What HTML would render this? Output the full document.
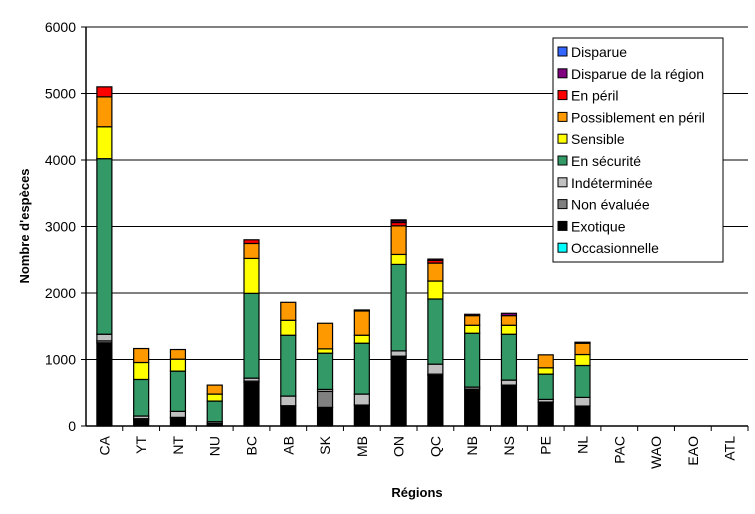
<!DOCTYPE html>
<html><head><meta charset="utf-8"><style>
body{margin:0;background:#fff;}
svg text{font-family:"Liberation Sans",Arial,sans-serif;}
</style></head><body>
<svg id="c" width="755" height="509" xmlns="http://www.w3.org/2000/svg"></svg>
<script>
const categories=["CA","YT","NT","NU","BC","AB","SK","MB","ON","QC","NB","NS","PE","NL","PAC","WAO","EAO","ATL"];
const seriesNames=["Exotique","Non évaluée","Indéterminée","En sécurité","Sensible","Possiblement en péril","En péril","Disparue de la région","Disparue","Occasionnelle"];
const exotique=[1250,90,120,20,655,305,280,315,1050,760,555,615,360,300,0,0,0,0];
const nonEvaluee=[30,20,10,20,20,0,240,0,0,20,0,0,0,0,0,0,0,0];
const indeterminee=[100,40,90,25,45,145,30,165,80,150,30,75,40,130,0,0,0,0];
const enSecurite=[2640,550,605,310,1275,915,545,765,1300,980,810,690,380,480,0,0,0,0];
const sensible=[480,255,180,105,525,225,65,120,150,270,120,135,95,165,0,0,0,0];
const possiblement=[450,210,145,135,225,270,385,365,430,270,145,145,195,170,0,0,0,0];
const enPeril=[150,0,0,0,55,0,0,0,50,40,0,0,0,0,0,0,0,0];
const disparueRegion=[0,0,0,0,0,0,0,15,25,20,20,35,0,15,0,0,0,0];
const disparue=[0,0,0,0,0,0,0,0,15,0,0,0,0,0,0,0,0,0];
const occasionnelle=[0,0,0,0,0,0,0,0,0,0,0,0,0,0,0,0,0,0];
const yTicks=[0,1000,2000,3000,4000,5000,6000];
const series=[exotique,nonEvaluee,indeterminee,enSecurite,sensible,possiblement,enPeril,disparueRegion,disparue,occasionnelle];
const colors=["#000000","#808080","#c0c0c0","#339966","#ffff00","#ff9900","#ff0000","#800080","#3366ff","#00ffff"];
const legendOrder=[8,7,6,5,4,3,2,1,0,9];
const NS="http://www.w3.org/2000/svg";
const svg=document.getElementById('c');
const X0=86,X1=748,Y0=426,Y1=27,YMAX=6000;
const bw=(X1-X0)/categories.length;
function y(v){return Y0-(v/YMAX)*(Y0-Y1);}
function xc(i){return X0+bw*(i+0.5);}
function el(t,a,p){const e=document.createElementNS(NS,t);for(const k in a)e.setAttribute(k,a[k]);(p||svg).appendChild(e);return e;}
yTicks.forEach(v=>{
 if(v>0){const g=el('line',{x1:X0,x2:X1,y1:y(v),y2:y(v),stroke:'#000','stroke-width':1});
 
 }
 el('line',{x1:X0-5,x2:X0,y1:y(v),y2:y(v),stroke:'#000'});
 const t=el('text',{x:X0-10,y:y(v)+5,'text-anchor':'end','font-size':14});
 t.textContent=v;
 
 
});
categories.forEach((c,i)=>{
 let acc=0;
 series.forEach((s,k)=>{
  const v=s[i];if(v<=0)return;
  const r=el('rect',{x:xc(i)-7.5,y:y(acc+v),width:15,height:y(acc)-y(acc+v),fill:colors[k],stroke:'#000','stroke-width':1.2});
  
  
  acc+=v;
 });
 el('line',{x1:X0+bw*(i+1),x2:X0+bw*(i+1),y1:Y0,y2:Y0+5,stroke:'#000'});
 const t=el('text',{transform:`translate(${xc(i)+5},436) rotate(-90)`,'text-anchor':'end','font-size':14});
 t.textContent=c;
 
 
});
el('line',{x1:X0,x2:X0,y1:Y1,y2:Y0,stroke:'#000','stroke-width':1.5});
el('line',{x1:X0,x2:X1,y1:Y0,y2:Y0,stroke:'#000','stroke-width':1.5});
const yt=el('text',{transform:'translate(29,226) rotate(-90)','text-anchor':'middle','font-size':13,'font-weight':'bold'});
yt.textContent="Nombre d'espèces";


const xt=el('text',{x:417,y:497,'text-anchor':'middle','font-size':13,'font-weight':'bold'});
xt.textContent="Régions";


const lg=el('g',{});


el('rect',{x:553,y:38,width:170,height:224,fill:'#fff',stroke:'#000'},lg);
legendOrder.forEach((k,j)=>{
 const yy=52+j*21.8;
 el('rect',{x:558,y:yy-5,width:9,height:9,fill:colors[k],stroke:'#000'},lg);
 const t=el('text',{x:571,y:yy+5,'font-size':14},lg);
 t.textContent=seriesNames[k];
 
 
});
</script>
</body></html>
